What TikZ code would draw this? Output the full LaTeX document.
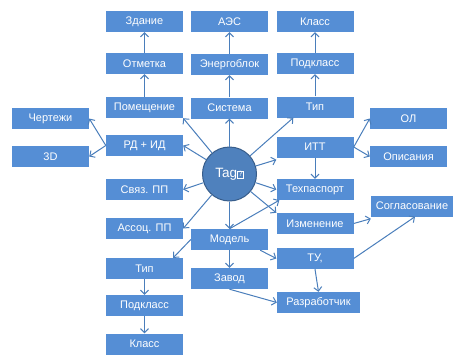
\documentclass[tikz,border=0pt]{standalone}
\usepackage{fontspec}
\setmainfont{Liberation Sans}
\usetikzlibrary{arrows.meta}
\definecolor{boxblue}{HTML}{558ED5}
\definecolor{linkblue}{HTML}{4A7EBB}
\definecolor{tagfill}{HTML}{4F81BD}
\definecolor{tagline}{HTML}{385D8A}
\newcommand{\missingglyph}{{\setlength{\fboxsep}{0.6pt}\setlength{\fboxrule}{0.6pt}\raisebox{0.3pt}{\fbox{\fontsize{7.5}{8}\selectfont ?}}}}

\begin{document}
\begin{tikzpicture}[x=1pt, y=-1pt,
  item/.style={fill=boxblue, text=white, minimum width=77pt, minimum height=21pt,
    inner sep=0pt, font=\fontsize{11}{13}\selectfont},
  link/.style={draw=linkblue, line width=1pt, -{Straight Barb[length=4pt,width=8pt]}},
  tag/.style={circle, fill=tagfill, draw=tagline, line width=1pt, minimum size=54pt,
    inner sep=0pt, text=white, font=\fontsize{13.5}{15}\selectfont}]
  \useasboundingbox (0,0) rectangle (454,354);
  % centre
  \node[tag] (tag) at (229.5,174) {Tag\missingglyph};
  % left column
  \node[item] (zdanie)  at (144.5,21.5)  {Здание};
  \node[item] (otmetka) at (144.5,63.5)  {Отметка};
  \node[item] (pomesh)  at (144.5,107.5) {Помещение};
  \node[item] (rdid)    at (144.5,145.5) {РД + ИД};
  \node[item] (svyaz)   at (144.5,189.5) {Связ. ПП};
  \node[item] (assoc)   at (144.5,228.5) {Ассоц. ПП};
  \node[item] (tipb)    at (144.5,268.5) {Тип};
  \node[item] (podklb)  at (144.5,305.5) {Подкласс};
  \node[item] (klassb)  at (144.5,344)   {Класс};
  \node[item] (chert)   at (50.5,118.5)  {Чертежи};
  \node[item] (drei)    at (50.5,156.5)  {3D};
  % middle column
  \node[item] (aes)     at (229.5,21.5)  {АЭС};
  \node[item] (energo)  at (229.5,64.5)  {Энергоблок};
  \node[item] (sistema) at (229.5,108)   {Система};
  \node[item] (model)   at (229.5,239.5) {Модель};
  \node[item] (zavod)   at (229.5,278.5) {Завод};
  % right column
  \node[item] (klass)   at (315,21.5)  {Класс};
  \node[item] (podkl)   at (315,63.5)  {Подкласс};
  \node[item] (tip)     at (315,107)   {Тип};
  \node[item] (itt)     at (315,147)   {ИТТ};
  \node[item] (tech)    at (315,189.5) {Техпаспорт};
  \node[item] (izm)     at (315,223.5) {Изменение};
  \node[item] (tu)      at (315,258.5) {ТУ,};
  \node[item, minimum width=83pt] (razr) at (318.5,302.5) {Разработчик};
  \node[item] (ol)      at (408.5,118.5) {ОЛ};
  \node[item] (opis)    at (408.5,156.5) {Описания};
  \node[item, minimum width=82pt] (sogl) at (412,206) {Согласование};
  % chains
  \draw[link] (pomesh) -- (otmetka);
  \draw[link] (otmetka) -- (zdanie);
  \draw[link] (sistema) -- (energo);
  \draw[link] (energo) -- (aes);
  \draw[link] (tip) -- (podkl);
  \draw[link] (podkl) -- (klass);
  \draw[link] (tipb) -- (podklb);
  \draw[link] (podklb) -- (klassb);
  % from the tag
  \draw[link] (tag) -- (pomesh.south east);
  \draw[link] (tag) -- (rdid.east);
  \draw[link] (tag) -- (sistema);
  \draw[link] (tag) -- ([xshift=17pt]tip.south west);
  \draw[link] (tag) -- ([yshift=-2pt]itt.south west);
  \draw[link] (tag) -- (svyaz.east);
  \draw[link] (tag) -- (assoc.east);
  \draw[link] (tag) -- (tech.west);
  \draw[link] (tag) -- (izm.north west);
  \draw[link] (tag) -- (model);
  % further links
  \draw[link] (rdid.west) -- (chert.east);
  \draw[link] (rdid.west) -- (drei.east);
  \draw[link] (itt.east) -- (ol.west);
  \draw[link] (itt.east) -- (opis.west);
  \draw[link] (itt) -- (tech);
  \draw[link] (model.north) -- ([xshift=3pt]tech.south west);
  \draw[link] (model.west) -- ([xshift=-10pt]tipb.north east);
  \draw[link] ([xshift=-8pt]model.south east) -- (tu.west);
  \draw[link] (model) -- (zavod);
  \draw[link] (zavod.south) -- (razr.west);
  \draw[link] (tu.south) -- (razr.north);
  \draw[link] (tu.east) -- ([xshift=3pt]sogl.south);
  \draw[link] (izm.east) -- ([yshift=-2pt]sogl.south west);
\end{tikzpicture}
\end{document}
